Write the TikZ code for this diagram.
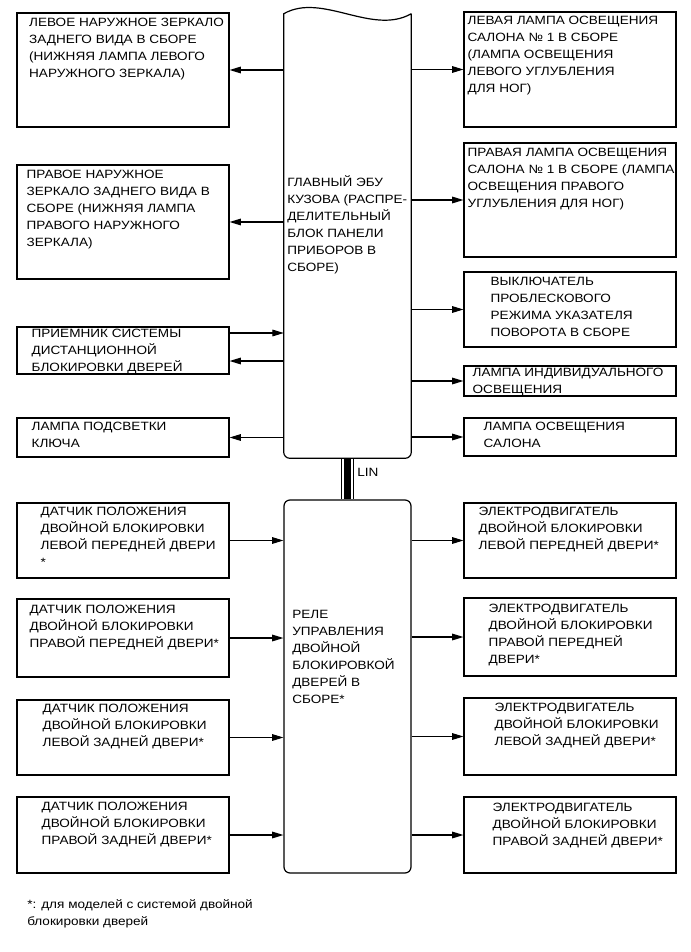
\documentclass[tikz,border=0pt]{standalone}
\usepackage{fontspec}
\setmainfont[FakeStretch=1.13]{Liberation Sans}
\usetikzlibrary{
    arrows.meta,
    positioning,
    fit
}
\newcommand{\boxfont}{\fontsize{9}{12.7}\selectfont}
\tikzset{
  unit/.style    = {draw, line width=0.9pt, inner sep=0pt},
  relbox/.style  = {unit, rounded corners=4.5pt},
  txt/.style     = {anchor=north west, align=left, inner sep=0pt, font=\boxfont,
                    yshift=6.2pt, execute at begin node={\rule{0pt}{9pt}}},
  arr/.style     = {-{Triangle[length=8.5pt,width=5pt]}, line width=0.8pt},
  outline/.style = {line width=0.9pt}
}

\begin{document}
\begin{tikzpicture}[x=0.75pt, y=-0.75pt]
    \useasboundingbox (0,0) rectangle (690,952);

    % body ECU
    \node[fit={(284,14) (411,458)}, inner sep=0pt] (ecu) {};
    \draw[outline] (ecu.north east) .. controls (372,36) and (322,-8) .. (ecu.north west)
        [rounded corners=4.5pt] -- (ecu.south west) -- (ecu.south east) -- (ecu.north east);
    \node[txt] (ecut) at (287,184) {ГЛАВНЫЙ ЭБУ\\КУЗОВА (РАСПРЕ-\\ДЕЛИТЕЛЬНЫЙ\\БЛОК ПАНЕЛИ\\ПРИБОРОВ В\\СБОРЕ)};

    % double lock relay
    \node[relbox, fit={(284,500) (411,873)}] (relay) {};
    \node[txt] (relayt) at (292,618.5) {РЕЛЕ\\УПРАВЛЕНИЯ\\ДВОЙНОЙ\\БЛОКИРОВКОЙ\\ДВЕРЕЙ В\\СБОРЕ*};

    % LIN
    \draw[line width=9.2pt, shorten <=0.45pt, shorten >=0.45pt] (ecu.south) -- (relay.north);
    \draw[line width=7.7pt, white, shorten <=0.45pt, shorten >=0.45pt] (ecu.south) -- (relay.north);
    \draw[line width=5.25pt] (ecu.south) -- (relay.north);
    \node[txt] (lin) at (357,472.5) {LIN};

    % left, upper
    \node[unit, fit={(17,13) (229,127)}] (l1) {};
    \node[txt] at ([shift={(12.5,13.5)}]l1.north west) {ЛЕВОЕ НАРУЖНОЕ ЗЕРКАЛО\\ЗАДНЕГО ВИДА В СБОРЕ\\(НИЖНЯЯ ЛАМПА ЛЕВОГО\\НАРУЖНОГО ЗЕРКАЛА)};
    \node[unit, fit={(17,165) (229,279)}] (l2) {};
    \node[txt] at ([shift={(10,13.5)}]l2.north west) {ПРАВОЕ НАРУЖНОЕ\\ЗЕРКАЛО ЗАДНЕГО ВИДА В\\СБОРЕ (НИЖНЯЯ ЛАМПА\\ПРАВОГО НАРУЖНОГО\\ЗЕРКАЛА)};
    \node[unit, fit={(17,327) (229,374)}] (l3) {};
    \node[txt] at ([shift={(15,10.5)}]l3.north west) {ПРИЕМНИК СИСТЕМЫ\\ДИСТАНЦИОННОЙ\\БЛОКИРОВКИ ДВЕРЕЙ};
    \node[unit, fit={(17,418) (229,457)}] (l4) {};
    \node[txt] at ([shift={(15,12.5)}]l4.north west) {ЛАМПА ПОДСВЕТКИ\\КЛЮЧА};

    % right, upper
    \node[unit, fit={(464,12) (676,127)}] (r1) {};
    \node[txt] at ([shift={(4,13)}]r1.north west) {ЛЕВАЯ ЛАМПА ОСВЕЩЕНИЯ\\САЛОНА № 1 В СБОРЕ\\(ЛАМПА ОСВЕЩЕНИЯ\\ЛЕВОГО УГЛУБЛЕНИЯ\\ДЛЯ НОГ)};
    \node[unit, fit={(464,143) (676,257)}] (r2) {};
    \node[txt] at ([shift={(4,14)}]r2.north west) {ПРАВАЯ ЛАМПА ОСВЕЩЕНИЯ\\САЛОНА № 1 В СБОРЕ (ЛАМПА\\ОСВЕЩЕНИЯ ПРАВОГО\\УГЛУБЛЕНИЯ ДЛЯ НОГ)};
    \node[unit, fit={(464,272) (676,347)}] (r3) {};
    \node[txt] at ([shift={(27,13.5)}]r3.north west) {ВЫКЛЮЧАТЕЛЬ\\ПРОБЛЕСКОВОГО\\РЕЖИМА УКАЗАТЕЛЯ\\ПОВОРОТА В СБОРЕ};
    \node[unit, fit={(464,366) (676,396)}] (r4) {};
    \node[txt] at ([shift={(9,11)}]r4.north west) {ЛАМПА ИНДИВИДУАЛЬНОГО\\ОСВЕЩЕНИЯ};
    \node[unit, fit={(464,418) (676,456)}] (r5) {};
    \node[txt] at ([shift={(20,13)}]r5.north west) {ЛАМПА ОСВЕЩЕНИЯ\\САЛОНА};

    % left, lower
    \node[unit, fit={(17,503) (229,578)}] (s1) {};
    \node[txt] at ([shift={(24,12.5)}]s1.north west) {ДАТЧИК ПОЛОЖЕНИЯ\\ДВОЙНОЙ БЛОКИРОВКИ\\ЛЕВОЙ ПЕРЕДНЕЙ ДВЕРИ\\*};
    \node[unit, fit={(17,599) (229,677)}] (s2) {};
    \node[txt] at ([shift={(13,14.5)}]s2.north west) {ДАТЧИК ПОЛОЖЕНИЯ\\ДВОЙНОЙ БЛОКИРОВКИ\\ПРАВОЙ ПЕРЕДНЕЙ ДВЕРИ*};
    \node[unit, fit={(17,700) (229,775)}] (s3) {};
    \node[txt] at ([shift={(26,12.5)}]s3.north west) {ДАТЧИК ПОЛОЖЕНИЯ\\ДВОЙНОЙ БЛОКИРОВКИ\\ЛЕВОЙ ЗАДНЕЙ ДВЕРИ*};
    \node[unit, fit={(17,797) (229,873)}] (s4) {};
    \node[txt] at ([shift={(25,13.5)}]s4.north west) {ДАТЧИК ПОЛОЖЕНИЯ\\ДВОЙНОЙ БЛОКИРОВКИ\\ПРАВОЙ ЗАДНЕЙ ДВЕРИ*};

    % right, lower
    \node[unit, fit={(464,503) (676,578)}] (m1) {};
    \node[txt] at ([shift={(15,12.5)}]m1.north west) {ЭЛЕКТРОДВИГАТЕЛЬ\\ДВОЙНОЙ БЛОКИРОВКИ\\ЛЕВОЙ ПЕРЕДНЕЙ ДВЕРИ*};
    \node[unit, fit={(464,598) (676,676)}] (m2) {};
    \node[txt] at ([shift={(25,14.5)}]m2.north west) {ЭЛЕКТРОДВИГАТЕЛЬ\\ДВОЙНОЙ БЛОКИРОВКИ\\ПРАВОЙ ПЕРЕДНЕЙ\\ДВЕРИ*};
    \node[unit, fit={(464,698) (676,775)}] (m3) {};
    \node[txt] at ([shift={(31,13.5)}]m3.north west) {ЭЛЕКТРОДВИГАТЕЛЬ\\ДВОЙНОЙ БЛОКИРОВКИ\\ЛЕВОЙ ЗАДНЕЙ ДВЕРИ*};
    \node[unit, fit={(464,797) (676,873)}] (m4) {};
    \node[txt] at ([shift={(29,14.5)}]m4.north west) {ЭЛЕКТРОДВИГАТЕЛЬ\\ДВОЙНОЙ БЛОКИРОВКИ\\ПРАВОЙ ЗАДНЕЙ ДВЕРИ*};

    \node[txt] (note) at (27,908) {*: для моделей с системой двойной\\блокировки дверей};

    % connections
    \coordinate (l3in)  at ([shift={(0,-17.5)}]l3.east);
    \coordinate (l3out) at ([shift={(0,10.5)}]l3.east);
    \draw[arr] (ecu.west |- l1.east) -- (l1.east);
    \draw[arr] (ecu.west |- l2.east) -- (l2.east);
    \draw[arr] (l3in) -- (ecu.west |- l3in);
    \draw[arr] (ecu.west |- l3out) -- (l3out);
    \draw[arr] (ecu.west |- l4.east) -- (l4.east);
    \draw[arr] (ecu.east |- r1.west) -- (r1.west);
    \draw[arr] (ecu.east |- r2.west) -- (r2.west);
    \draw[arr] (ecu.east |- r3.west) -- (r3.west);
    \draw[arr] (ecu.east |- r4.west) -- (r4.west);
    \draw[arr] (ecu.east |- r5.west) -- (r5.west);
    \draw[arr] (s1.east) -- (relay.west |- s1.east);
    \draw[arr] (s2.east) -- (relay.west |- s2.east);
    \draw[arr] (s3.east) -- (relay.west |- s3.east);
    \draw[arr] (s4.east) -- (relay.west |- s4.east);
    \draw[arr] (relay.east |- m1.west) -- (m1.west);
    \draw[arr] (relay.east |- m2.west) -- (m2.west);
    \draw[arr] (relay.east |- m3.west) -- (m3.west);
    \draw[arr] (relay.east |- m4.west) -- (m4.west);
\end{tikzpicture}
\end{document}
